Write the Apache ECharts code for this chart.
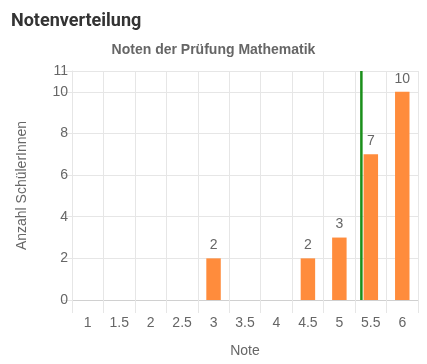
<!DOCTYPE html>
<html><head><meta charset="utf-8">
<script src="https://cdn.jsdelivr.net/npm/echarts@6/dist/echarts.min.js"></script>
<style>html,body{margin:0;padding:0;background:#fff}#c{width:427px;height:364px}</style>
</head><body><div id="c"></div>
<script>
const categories = ['1','1.5','2','2.5','3','3.5','4','4.5','5','5.5','6'];
const counts = [0,0,0,0,2,0,0,2,3,7,10];
const meanGrade = [5.35];
const yTicks = [0,2,4,6,8,10,11];

const chart = echarts.init(document.getElementById('c'));
const grey = '#666';
const gridCol = '#e6e6e6';
chart.setOption({
  animation: false,
  title: [
    {text: 'Notenverteilung', left: 6, top: 7, textStyle: {fontFamily: 'Roboto', fontWeight: 'bold', fontSize: 18, color: '#333'}},
    {text: 'Noten der Prüfung Mathematik', left: 'center', top: 38, textStyle: {fontFamily: 'Liberation Sans', fontWeight: 'bold', fontSize: 14, color: grey}}
  ],
  grid: {left: 72, right: 9, top: 71, bottom: 64},
  xAxis: [{
    type: 'category', data: categories, boundaryGap: true,
    name: 'Note', nameLocation: 'middle', nameGap: 44,
    nameTextStyle: {fontFamily: 'Liberation Sans', fontSize: 14, color: grey},
    axisLine: {lineStyle: {color: '#d0d0d0'}},
    axisTick: {show: true, length: 13, lineStyle: {color: gridCol}},
    axisLabel: {fontFamily: 'Liberation Sans', fontSize: 14, color: grey, margin: 16},
    splitLine: {show: true, lineStyle: {color: gridCol}}
  }, {
    type: 'value', min: 0.75, max: 6.25, show: false
  }],
  yAxis: {
    type: 'value', min: 0, max: 11, interval: 2,
    name: 'Anzahl SchülerInnen', nameLocation: 'middle', nameGap: 43,
    nameTextStyle: {fontFamily: 'Liberation Sans', fontSize: 14, color: grey},
    axisLine: {show: true, lineStyle: {color: gridCol}},
    axisTick: {show: true, length: 10, lineStyle: {color: gridCol}},
    axisLabel: {fontFamily: 'Liberation Sans', fontSize: 14, color: grey, margin: 4,
      formatter: v => yTicks.includes(v) ? String(v) : ''},
    splitLine: {show: true, lineStyle: {color: gridCol}}
  },
  series: [{
    type: 'bar', data: counts, barWidth: '46%',
    itemStyle: {color: '#FF8C3C'},
    label: {show: true, position: 'top', distance: 6, fontFamily: 'Liberation Sans', fontSize: 14, color: grey,
      formatter: p => p.value > 0 ? String(p.value) : ''}
  }, {
    type: 'line', xAxisIndex: 1, yAxisIndex: 0, symbol: 'none',
    data: [[meanGrade[0], 0], [meanGrade[0], 11]],
    lineStyle: {color: '#1a8f1a', width: 2.5}, z: 5
  }]
});
</script></body></html>
